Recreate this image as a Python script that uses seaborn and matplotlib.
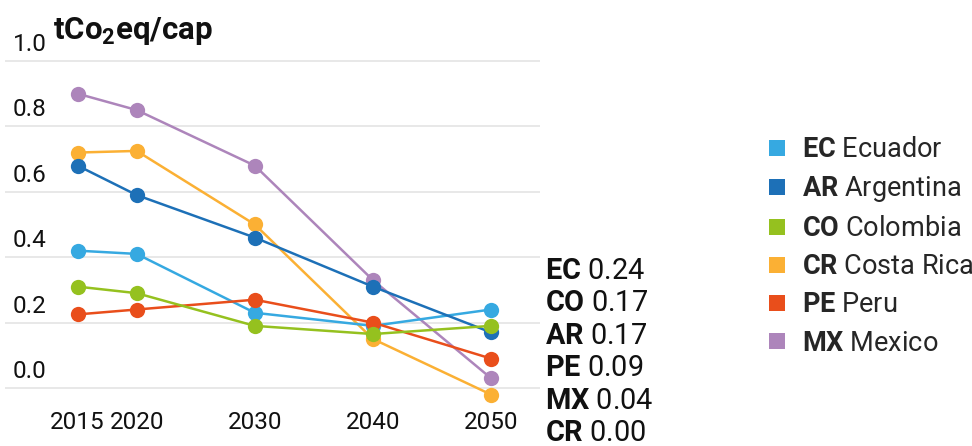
from __future__ import annotations

import matplotlib

matplotlib.use("Agg")
import matplotlib.pyplot as plt
import matplotlib.transforms as mtransforms
import pandas as pd
import seaborn as sns
from matplotlib.lines import Line2D


YEARS = [2015, 2020, 2030, 2040, 2050]

EC_VALUES = [0.42, 0.41, 0.23, 0.19, 0.24]
AR_VALUES = [0.68, 0.59, 0.46, 0.31, 0.17]
CO_VALUES = [0.31, 0.29, 0.19, 0.165, 0.19]
CR_VALUES = [0.72, 0.725, 0.50, 0.15, -0.02]
PE_VALUES = [0.225, 0.24, 0.27, 0.20, 0.09]
MX_VALUES = [0.90, 0.85, 0.68, 0.33, 0.03]

LEGEND_CODES = ["EC", "AR", "CO", "CR", "PE", "MX"]
LEGEND_NAMES = ["Ecuador", "Argentina", "Colombia", "Costa Rica", "Peru", "Mexico"]

END_CODES = ["EC", "CO", "AR", "PE", "MX", "CR"]
END_LABELS = ["0.24", "0.17", "0.17", "0.09", "0.04", "0.00"]

Y_TICKS = [0.0, 0.2, 0.4, 0.6, 0.8, 1.0]
Y_TICK_LABELS = ["0.0", "0.2", "0.4", "0.6", "0.8", "1.0"]
TITLE = "tCo$_2$eq/cap"

COLORS = {
    "EC": "#36a9e1",
    "AR": "#1d70b7",
    "CO": "#95c11f",
    "CR": "#fbb034",
    "PE": "#e94e1b",
    "MX": "#ad85bb",
}
# drawing order, later codes sit on top
DRAW_ORDER = ["MX", "CR", "EC", "PE", "AR", "CO"]

W, H = 972, 446


def build_frame() -> pd.DataFrame:
    series = {
        "EC": EC_VALUES,
        "AR": AR_VALUES,
        "CO": CO_VALUES,
        "CR": CR_VALUES,
        "PE": PE_VALUES,
        "MX": MX_VALUES,
    }
    rows = []
    for code, values in series.items():
        for year, value in zip(YEARS, values):
            rows.append({"year": year, "value": value, "code": code})
    return pd.DataFrame(rows)


def main() -> None:
    sns.set_theme(style="white")
    plt.rcParams["font.family"] = ["Roboto", "DejaVu Sans"]
    plt.rcParams["mathtext.fontset"] = "custom"
    plt.rcParams["mathtext.rm"] = "Roboto"
    plt.rcParams["mathtext.bf"] = "Roboto:bold"
    plt.rcParams["mathtext.default"] = "regular"

    df = build_frame()

    fig = plt.figure(figsize=(W / 100, H / 100), dpi=100)
    # axes box in pixels: x 5..540, y 40..410 (from top)
    ax = fig.add_axes([5 / W, (H - 410) / H, 535 / W, 370 / H])

    sns.lineplot(
        data=df,
        x="year",
        y="value",
        hue="code",
        hue_order=DRAW_ORDER,
        palette=COLORS,
        marker="o",
        markersize=11,
        markeredgewidth=0,
        linewidth=1.8,
        legend=False,
        ax=ax,
    )

    ax.set_xlim(2008.85, 2054.15)
    ax.set_ylim(-0.0673, 1.0642)
    ax.set_xticks(YEARS)
    ax.set_xticklabels([str(y) for y in YEARS], fontsize=17.5, color="#111111")
    ax.tick_params(axis="x", length=0, pad=1)
    ax.set_yticks(Y_TICKS)
    ax.set_yticklabels([])
    ax.tick_params(axis="y", length=0)
    ax.grid(axis="y", color="#e6e6e6", linewidth=1.3)
    ax.grid(axis="x", visible=False)
    ax.set_axisbelow(True)
    ax.set_xlabel("")
    ax.set_ylabel("")
    for spine in ax.spines.values():
        spine.set_visible(False)

    label_trans = mtransforms.offset_copy(
        mtransforms.blended_transform_factory(ax.transAxes, ax.transData),
        fig=fig,
        x=0,
        y=5,
        units="dots",
    )
    for tick, text in zip(Y_TICKS, Y_TICK_LABELS):
        ax.text(8 / 535, tick, text, transform=label_trans, fontsize=17.5,
                color="#111111", ha="left", va="bottom")

    fig.text(53 / W, 1 - 39 / H, TITLE, fontsize=22.5, fontweight="bold",
             color="#111111", ha="left", va="baseline")

    # end labels to the right of the plot
    for i, (code, value) in enumerate(zip(END_CODES, END_LABELS)):
        y_px = 271 + i * 32.4
        fig.text(545 / W, 1 - y_px / H, f"$\\mathbf{{{code}}}$ {value}",
                 fontsize=20.8, color="#111111", ha="left", va="center")

    handles = [
        Line2D([], [], marker="s", linestyle="none", markersize=11.5,
               markeredgewidth=0, color=COLORS[code])
        for code in LEGEND_CODES
    ]
    labels = [f"$\\mathbf{{{c}}}$ {n}" for c, n in zip(LEGEND_CODES, LEGEND_NAMES)]
    fig.legend(
        handles,
        labels,
        loc="upper left",
        bbox_to_anchor=(769 / W, 1 - 136 / H),
        frameon=False,
        fontsize=19.5,
        handlelength=0.6,
        handletextpad=0.6,
        labelspacing=0.41,
        borderpad=0,
        borderaxespad=0,
    )

    fig.savefig("out.png", dpi=100)
    plt.close(fig)


if __name__ == "__main__":
    main()
